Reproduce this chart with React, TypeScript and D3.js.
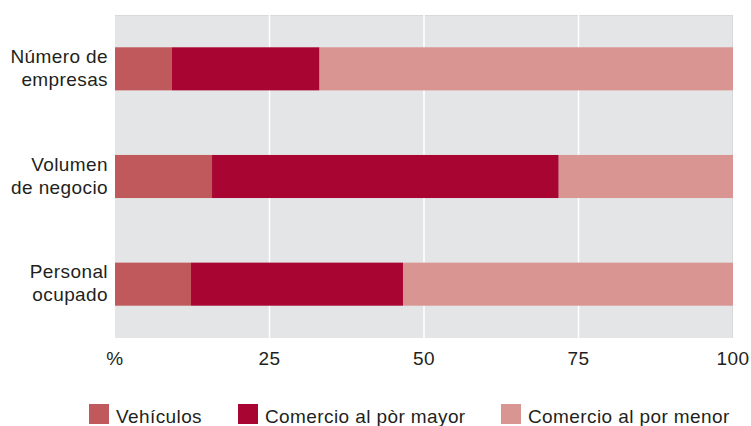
import React from 'react';
import * as d3 from 'd3';

// categories (top to bottom), each label split over two lines
const categories = ['Número de empresas', 'Volumen de negocio', 'Personal ocupado'];
const categoryLines = [
  ['Número de', 'empresas'],
  ['Volumen', 'de negocio'],
  ['Personal', 'ocupado'],
];

// series shares in %
const series = ['Vehículos', 'Comercio al pòr mayor', 'Comercio al por menor'];
const vehiculos = [9.2, 15.7, 12.3];
const mayor = [23.9, 56.1, 34.3];
const menor = [66.9, 28.2, 53.4];

const tickValues = [0, 25, 50, 75, 100];
const tickLabels = ['%', '25', '50', '75', '100'];

const colors = ['#c0595c', '#a80532', '#d89592'];

const W = 751;
const H = 426;
const margin = { top: 15, right: 18, bottom: 88, left: 115 };
const FONT = '"Liberation Sans", Arial, sans-serif';
const TEXT = '#231f20';
const LS = 0.4;

const App: React.FC = () => {
  const x = d3.scaleLinear().domain([0, 100]).range([margin.left, W - margin.right]);
  const y = d3
    .scaleBand<string>()
    .domain(categories)
    .range([margin.top, H - margin.bottom])
    .paddingInner(0.6)
    .paddingOuter(0.3);

  const rows = categories.map((c, i) => ({
    cat: c,
    vehiculos: vehiculos[i],
    mayor: mayor[i],
    menor: menor[i],
  }));
  const stack = d3.stack<any>().keys(['vehiculos', 'mayor', 'menor']);
  const layers = stack(rows);

  const [x0, x1] = x.range();
  const [y0, y1] = y.range();

  // legend layout
  const legendX = [89, 238, 501];
  const legendY = 404;

  return (
    <svg
      width={W}
      height={H}
      style={{ position: 'absolute', left: 0, top: 0, background: '#fff' }}
      fontFamily={FONT}
    >
      <rect x={x0} y={y0} width={x1 - x0} height={y1 - y0} fill="#e4e5e7" />
      <line x1={x0} x2={x1} y1={y0 + 0.5} y2={y0 + 0.5} stroke="#d9d9d9" />
      <line x1={x1 - 0.5} x2={x1 - 0.5} y1={y0} y2={y1} stroke="#d9d9d9" />
      {tickValues.slice(1, -1).map((t) => (
        <line key={t} x1={x(t)} x2={x(t)} y1={y0} y2={y1} stroke="#fff" strokeWidth={1.5} />
      ))}

      {layers.map((layer, li) => (
        <g key={layer.key} fill={colors[li]}>
          {layer.map((d, i) => (
            <rect
              key={i}
              x={x(d[0])}
              y={y(categories[i])}
              width={x(d[1]) - x(d[0])}
              height={y.bandwidth()}
            />
          ))}
        </g>
      ))}

      {categories.map((c, i) => {
        const cy = (y(c) as number) + y.bandwidth() / 2;
        return (
          <text key={c} x={108} textAnchor="end" fontSize={19} fill={TEXT} letterSpacing={LS}>
            <tspan x={108} y={cy - 6}>{categoryLines[i][0]}</tspan>
            <tspan x={108} y={cy + 17}>{categoryLines[i][1]}</tspan>
          </text>
        );
      })}

      {tickValues.map((t, i) => (
        <text
          key={t}
          x={x(t)}
          y={365}
          textAnchor="middle"
          fontSize={19}
          fill={TEXT}
          letterSpacing={LS}
        >
          {tickLabels[i]}
        </text>
      ))}

      {series.map((s, i) => (
        <g key={s}>
          <rect x={legendX[i]} y={legendY} width={20} height={20} fill={colors[i]} />
          <text
            x={legendX[i] + 27}
            y={legendY + 19}
            fontSize={19}
            fill={TEXT}
            letterSpacing={LS}
          >
            {s}
          </text>
        </g>
      ))}
    </svg>
  );
};

export default App;
